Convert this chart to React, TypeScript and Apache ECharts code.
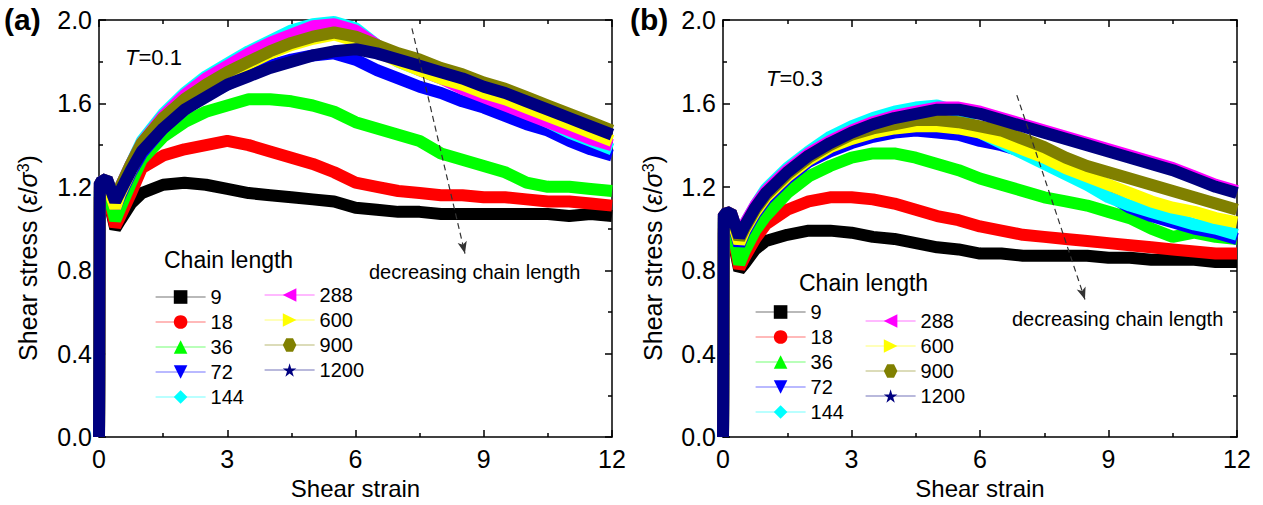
import React, { useEffect, useRef } from 'react';
import * as echarts from 'echarts';

const FONT = '"Liberation Sans", Arial, sans-serif';

// shear strain sample positions (shared by all curves)
const strain = [0, 0.02, 0.18, 0.38, 0.5, 0.75, 1, 1.5, 2, 2.5, 3, 3.5, 4, 4.5, 5, 5.5, 6, 6.5, 7, 7.5, 8, 8.5, 9, 9.5, 10, 10.5, 11, 11.5, 12];

// panel (a), T = 0.1
const a9 = [0, 1.15, 1.18, 1.0, 1.04, 1.12, 1.17, 1.21, 1.22, 1.21, 1.19, 1.17, 1.16, 1.15, 1.14, 1.13, 1.1, 1.09, 1.08, 1.08, 1.07, 1.07, 1.07, 1.07, 1.07, 1.07, 1.06, 1.07, 1.06];
const a18 = [0, 1.15, 1.18, 1.01, 1.06, 1.17, 1.29, 1.35, 1.38, 1.4, 1.42, 1.4, 1.37, 1.34, 1.31, 1.27, 1.22, 1.2, 1.18, 1.17, 1.16, 1.16, 1.15, 1.15, 1.14, 1.13, 1.13, 1.12, 1.11];
const a36 = [0, 1.18, 1.2, 1.04, 1.1, 1.22, 1.33, 1.44, 1.51, 1.56, 1.59, 1.62, 1.62, 1.61, 1.59, 1.56, 1.51, 1.48, 1.45, 1.42, 1.36, 1.33, 1.3, 1.27, 1.22, 1.2, 1.2, 1.19, 1.18];
const a72 = [0, 1.2, 1.23, 1.1, 1.16, 1.27, 1.36, 1.48, 1.57, 1.64, 1.69, 1.74, 1.78, 1.81, 1.83, 1.84, 1.81, 1.76, 1.72, 1.68, 1.65, 1.61, 1.58, 1.54, 1.5, 1.47, 1.42, 1.38, 1.35];
const a144 = [0, 1.22, 1.24, 1.12, 1.2, 1.31, 1.42, 1.55, 1.65, 1.73, 1.79, 1.85, 1.9, 1.95, 1.98, 1.99, 1.96, 1.88, 1.8, 1.76, 1.72, 1.68, 1.64, 1.6, 1.56, 1.51, 1.46, 1.42, 1.38];
const a288 = [0, 1.22, 1.24, 1.12, 1.2, 1.31, 1.41, 1.54, 1.64, 1.72, 1.78, 1.84, 1.89, 1.93, 1.97, 1.98, 1.95, 1.88, 1.81, 1.76, 1.72, 1.67, 1.63, 1.59, 1.55, 1.51, 1.47, 1.43, 1.4];
const a600 = [0, 1.2, 1.22, 1.1, 1.17, 1.28, 1.38, 1.5, 1.58, 1.66, 1.73, 1.79, 1.84, 1.88, 1.91, 1.93, 1.9, 1.85, 1.8, 1.76, 1.72, 1.69, 1.65, 1.62, 1.58, 1.54, 1.5, 1.46, 1.42];
const a900 = [0, 1.22, 1.24, 1.13, 1.2, 1.31, 1.41, 1.53, 1.62, 1.69, 1.75, 1.8, 1.85, 1.89, 1.92, 1.94, 1.92, 1.88, 1.84, 1.81, 1.77, 1.74, 1.7, 1.67, 1.63, 1.59, 1.55, 1.51, 1.47];
const a1200 = [0, 1.22, 1.24, 1.13, 1.18, 1.28, 1.37, 1.48, 1.57, 1.63, 1.69, 1.73, 1.77, 1.8, 1.83, 1.85, 1.86, 1.84, 1.81, 1.78, 1.75, 1.72, 1.68, 1.65, 1.61, 1.57, 1.53, 1.49, 1.45];

// panel (b), T = 0.3
const b9 = [0, 0.98, 1.0, 0.8, 0.83, 0.9, 0.94, 0.97, 0.99, 0.99, 0.98, 0.96, 0.95, 0.93, 0.91, 0.9, 0.88, 0.88, 0.87, 0.87, 0.87, 0.87, 0.86, 0.86, 0.85, 0.85, 0.85, 0.84, 0.84];
const b18 = [0, 1.0, 1.02, 0.81, 0.86, 0.95, 1.02, 1.09, 1.13, 1.15, 1.15, 1.14, 1.12, 1.09, 1.06, 1.04, 1.01, 0.99, 0.97, 0.96, 0.95, 0.94, 0.93, 0.92, 0.91, 0.9, 0.89, 0.88, 0.88];
const b36 = [0, 1.03, 1.04, 0.83, 0.89, 0.99, 1.06, 1.17, 1.25, 1.3, 1.34, 1.36, 1.36, 1.34, 1.31, 1.28, 1.24, 1.21, 1.18, 1.15, 1.13, 1.11, 1.08, 1.05, 1.0, 0.96, 0.98, 0.96, 0.95];
const b72 = [0, 1.05, 1.06, 0.92, 0.98, 1.07, 1.14, 1.24, 1.32, 1.37, 1.41, 1.44, 1.46, 1.47, 1.46, 1.45, 1.42, 1.4, 1.37, 1.34, 1.29, 1.23, 1.16, 1.1, 1.06, 1.03, 1.0, 0.98, 0.95];
const b144 = [0, 1.06, 1.07, 0.95, 1.02, 1.11, 1.19, 1.29, 1.37, 1.44, 1.49, 1.53, 1.56, 1.58, 1.59, 1.56, 1.46, 1.41, 1.36, 1.31, 1.26, 1.21, 1.15, 1.11, 1.08, 1.05, 1.02, 1.0, 0.97];
const b288 = [0, 1.07, 1.08, 0.96, 1.02, 1.11, 1.18, 1.28, 1.36, 1.42, 1.47, 1.51, 1.54, 1.56, 1.58, 1.58, 1.56, 1.53, 1.5, 1.47, 1.44, 1.41, 1.38, 1.35, 1.32, 1.29, 1.25, 1.21, 1.18];
const b600 = [0, 1.06, 1.07, 0.93, 0.99, 1.08, 1.15, 1.25, 1.33, 1.39, 1.43, 1.46, 1.48, 1.49, 1.49, 1.48, 1.46, 1.42, 1.38, 1.34, 1.29, 1.25, 1.21, 1.17, 1.13, 1.1, 1.08, 1.05, 1.03];
const b900 = [0, 1.07, 1.08, 0.95, 1.0, 1.09, 1.16, 1.26, 1.34, 1.4, 1.45, 1.48, 1.5, 1.52, 1.52, 1.51, 1.49, 1.47, 1.43, 1.39, 1.34, 1.3, 1.27, 1.24, 1.21, 1.18, 1.15, 1.12, 1.09];
const b1200 = [0, 1.07, 1.08, 0.96, 1.01, 1.1, 1.17, 1.27, 1.35, 1.41, 1.46, 1.5, 1.53, 1.55, 1.57, 1.57, 1.55, 1.52, 1.49, 1.46, 1.43, 1.4, 1.37, 1.34, 1.31, 1.28, 1.24, 1.2, 1.17];

const chainNames = ['9', '18', '36', '72', '144', '288', '600', '900', '1200'];
const panelA = [a9, a18, a36, a72, a144, a288, a600, a900, a1200];
const panelB = [b9, b18, b36, b72, b144, b288, b600, b900, b1200];

// axis ticks
const xTicks = { min: 0, max: 12, interval: 3 };
const yTicks = { min: 0, max: 2.0, interval: 0.4 };

// arrows "decreasing chain length" (strain, stress)
const arrowA = [[7.32, 1.96], [8.56, 0.88]];
const arrowB = [[6.86, 1.64], [8.45, 0.66]];

const colors = ['#000000', '#FF0000', '#00FF00', '#0000FF', '#00FFFF', '#FF00FF', '#FFFF00', '#808000', '#000080'];
const HEX = 'path://M25,0 L75,0 L100,43.3 L75,86.6 L25,86.6 L0,43.3 Z';
const STAR = 'path://M50,0 L61.17,34.63 L97.55,34.55 L68.07,55.87 L79.39,90.45 L50,69 L20.61,90.45 L31.93,55.87 L2.45,34.55 L38.83,34.63 Z';
const symbols = ['rect', 'circle', 'triangle', 'triangle', 'diamond', 'triangle', 'triangle', HEX, STAR];
const rotates = [0, 0, 0, 180, 0, 90, -90, 0, 0];

const BLACK = '#000';
const Y_TITLE = 'Shear stress ({i|ε}/{i|σ}{s|3})';

function makeXAxes(gridIndex: number) {
  const base: any = {
    type: 'value', gridIndex, ...xTicks,
    splitLine: { show: false },
    axisLine: { show: true, onZero: false, lineStyle: { color: BLACK, width: 1.5 } },
    axisTick: { show: true, inside: true, length: 7, lineStyle: { color: BLACK, width: 1.5 } },
    minorTick: { show: true, splitNumber: 2, length: 4, lineStyle: { color: BLACK, width: 1.5 } },
  };
  return [
    {
      ...base, position: 'bottom',
      axisLabel: { fontSize: 25, color: BLACK, fontFamily: FONT, margin: 9 },
      name: 'Shear strain', nameLocation: 'middle', nameGap: 37,
      nameTextStyle: { fontSize: 24, color: BLACK, fontFamily: FONT },
    },
    { ...base, position: 'top', axisLabel: { show: false } },
  ];
}

function makeYAxes(gridIndex: number) {
  const base: any = {
    type: 'value', gridIndex, ...yTicks,
    splitLine: { show: false },
    axisLine: { show: true, onZero: false, lineStyle: { color: BLACK, width: 1.5 } },
    axisTick: { show: true, inside: true, length: 7, lineStyle: { color: BLACK, width: 1.5 } },
    minorTick: { show: true, splitNumber: 2, length: 4, lineStyle: { color: BLACK, width: 1.5 } },
  };
  return [
    {
      ...base, position: 'left',
      axisLabel: { fontSize: 25, color: BLACK, fontFamily: FONT, margin: 7, formatter: (v: number) => v.toFixed(1) },
    },
    { ...base, position: 'right', axisLabel: { show: false } },
  ];
}

function makeSeries(values: number[][], axisBase: number, arrow: number[][]) {
  return values.map((vals, k) => {
    const s: any = {
      type: 'line',
      name: chainNames[k],
      xAxisIndex: axisBase,
      yAxisIndex: axisBase,
      data: strain.map((x, i) => [x, vals[i]]),
      showSymbol: false,
      symbol: symbols[k],
      symbolRotate: rotates[k],
      symbolSize: 13,
      color: colors[k],
      itemStyle: { color: colors[k] },
      lineStyle: { color: colors[k], width: 12 },
      silent: true,
      emphasis: { disabled: true },
    };
    if (k === values.length - 1) {
      s.markLine = {
        silent: true,
        symbol: ['none', 'arrow'],
        symbolSize: [7, 12],
        label: { show: false },
        lineStyle: { type: [6, 4], color: '#333', width: 1.2 },
        data: [[{ coord: arrow[0] }, { coord: arrow[1] }]],
      };
    }
    return s;
  });
}

function legendCol(names: string[], left: number, top: number) {
  return {
    data: names, orient: 'vertical', left, top, padding: 0,
    itemWidth: 50, itemHeight: 17, itemGap: 5, selectedMode: false,
    textStyle: { fontSize: 20, color: BLACK, fontFamily: FONT, lineHeight: 20 },
    lineStyle: { width: 1.2, opacity: 0.55 },
  };
}

function txt(text: string, x: number, y: number, fontSize: number, extra: any = {}) {
  return {
    type: 'text', x, y, silent: true,
    style: {
      text, fontSize, fontFamily: FONT, fill: BLACK,
      textAlign: 'left', textVerticalAlign: 'middle', verticalAlign: 'middle', ...extra,
    },
  };
}

function yTitle(x: number, y: number) {
  return {
    type: 'text', x, y, rotation: Math.PI / 2, silent: true,
    style: {
      text: Y_TITLE, fontSize: 25, fontFamily: FONT, fill: BLACK,
      textAlign: 'center', textVerticalAlign: 'middle', verticalAlign: 'middle',
      rich: {
        i: { fontSize: 25, fontStyle: 'italic', fontFamily: FONT, fill: BLACK },
        s: { fontSize: 16, fontFamily: FONT, fill: BLACK, verticalAlign: 'top', padding: [0, 0, 10, 0] },
      },
    },
  };
}

const option: any = {
  animation: false,
  backgroundColor: '#fff',
  grid: [
    { left: 99, top: 20, width: 513, height: 419 },
    { left: 723, top: 20, width: 514, height: 419 },
  ],
  xAxis: [...makeXAxes(0), ...makeXAxes(1)],
  yAxis: [...makeYAxes(0), ...makeYAxes(1)],
  legend: [
    legendCol(chainNames.slice(0, 5), 155, 287),
    legendCol(chainNames.slice(5), 264, 285),
    legendCol(chainNames.slice(0, 5), 755, 302),
    legendCol(chainNames.slice(5), 865, 311),
  ],
  series: [...makeSeries(panelA, 0, arrowA), ...makeSeries(panelB, 2, arrowB)],
  graphic: [
    txt('(a)', 4, 19, 30, { fontWeight: 'bold' }),
    txt('(b)', 630, 19, 30, { fontWeight: 'bold' }),
    yTitle(28, 258),
    yTitle(653, 258),
    txt('{i|T}=0.1', 125, 57, 22, { rich: { i: { fontStyle: 'italic', fontSize: 22, fontFamily: FONT } } }),
    txt('{i|T}=0.3', 766, 78, 22, { rich: { i: { fontStyle: 'italic', fontSize: 22, fontFamily: FONT } } }),
    txt('Chain length', 164, 260, 23),
    txt('Chain length', 799, 283, 23),
    txt('decreasing chain length', 369, 272, 20),
    txt('decreasing chain length', 1012, 319, 20),
  ],
};

export default function App() {
  const ref = useRef<HTMLDivElement>(null);
  useEffect(() => {
    const chart = echarts.init(ref.current as HTMLDivElement, null, { renderer: 'svg' });
    chart.setOption(option);
    return () => chart.dispose();
  }, []);
  return (
    <div
      ref={ref}
      style={{ position: 'absolute', left: 0, top: 0, width: 1263, height: 505, background: '#fff' }}
    />
  );
}
